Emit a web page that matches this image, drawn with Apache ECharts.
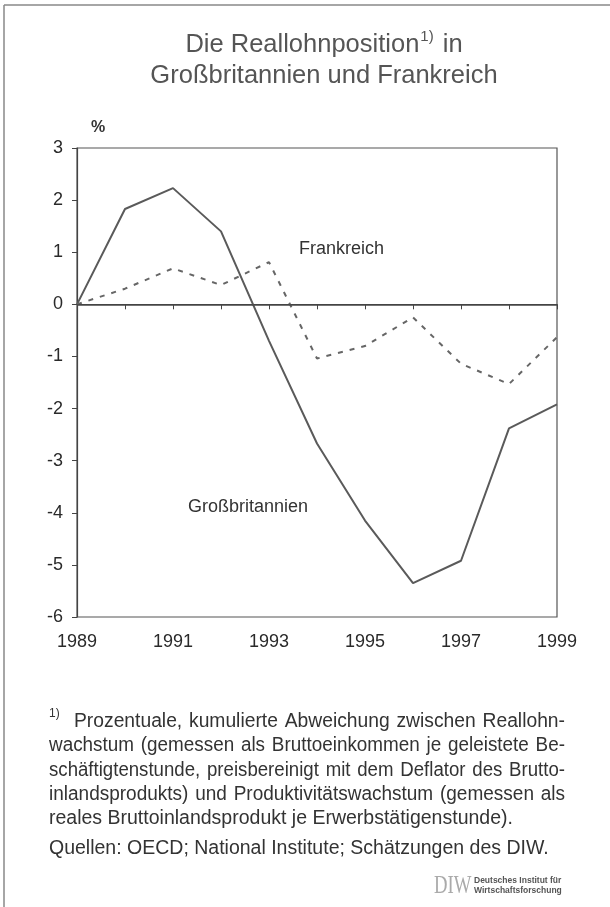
<!DOCTYPE html>
<html>
<head>
<meta charset="utf-8">
<script src="https://cdn.jsdelivr.net/npm/echarts@6/dist/echarts.min.js"></script>
<style>
html,body{margin:0;padding:0;background:#fff;}
#chart{width:610px;height:907px;}
</style>
</head>
<body>
<div id="chart"></div>
<script>
// ---- data ----
const years = [1989, 1990, 1991, 1992, 1993, 1994, 1995, 1996, 1997, 1998, 1999];
const gbValues = [0, 1.83, 2.23, 1.40, -0.70, -2.67, -4.15, -5.35, -4.92, -2.38, -1.92];
const frValues = [0, 0.30, 0.69, 0.37, 0.81, -1.04, -0.80, -0.25, -1.14, -1.53, -0.63];
const yTicks = [3, 2, 1, 0, -1, -2, -3, -4, -5, -6];
const xTickLabels = ['1989', '1991', '1993', '1995', '1997', '1999'];
const titleLines = ['Die Reallohnposition{sup|1)} in', 'Großbritannien und Frankreich'];
const seriesNames = ['Großbritannien', 'Frankreich'];
const footnoteLines = [
  'Prozentuale, kumulierte Abweichung zwischen Reallohn-',
  'wachstum (gemessen als Bruttoeinkommen je geleistete Be-',
  'schäftigtenstunde, preisbereinigt mit dem Deflator des Brutto-',
  'inlandsprodukts) und Produktivitätswachstum (gemessen als',
  'reales Bruttoinlandsprodukt je Erwerbstätigenstunde).'
];
const sourceLine = 'Quellen: OECD; National Institute; Schätzungen des DIW.';

// ---- layout helpers ----
const FONT = '"Liberation Sans", Arial, Helvetica, sans-serif';
const FN_SIZE = 19.5;
const canvas = document.createElement('canvas');
const ctx = canvas.getContext('2d');
ctx.font = FN_SIZE + 'px ' + FONT;

function justifiedLine(text, x0, x1, y, justify) {
  const words = text.split(' ');
  const widths = words.map(w => ctx.measureText(w).width);
  const total = widths.reduce((a, b) => a + b, 0);
  const space = ctx.measureText(' ').width;
  let s = 1;
  let gap = space;
  if (justify && words.length > 1) {
    gap = (x1 - x0 - total) / (words.length - 1);
    const minGap = space * 1.25;
    if (gap < minGap) {
      gap = minGap;
      s = (x1 - x0 - (words.length - 1) * minGap) / total;
    }
  }
  const els = [];
  let x = x0;
  words.forEach((w, i) => {
    els.push({type: 'text', x: x, y: y, scaleX: s,
      style: {text: w, font: FN_SIZE + 'px ' + FONT, fill: '#333', align: 'left', verticalAlign: 'middle'}});
    x += widths[i] * s + gap;
  });
  return els;
}

const graphics = [];
// page frame
graphics.push({type: 'line', shape: {x1: 4, y1: 5, x2: 610, y2: 5}, style: {stroke: '#888', lineWidth: 1.5}});
graphics.push({type: 'line', shape: {x1: 4, y1: 5, x2: 4, y2: 907}, style: {stroke: '#888', lineWidth: 1.5}});
// percent sign
graphics.push({type: 'text', left: 91, top: 120, style: {text: '%', font: 'bold 16px ' + FONT, fill: '#333'}});
// series labels
graphics.push({type: 'text', left: 299, top: 240, style: {text: seriesNames[1], font: '18px ' + FONT, fill: '#333'}});
graphics.push({type: 'text', left: 188, top: 498, style: {text: seriesNames[0], font: '18px ' + FONT, fill: '#333'}});
// footnote
graphics.push({type: 'text', left: 49, top: 708, style: {text: '1)', font: '12px ' + FONT, fill: '#333'}});
const fnY = [722, 746, 771, 795, 819];
footnoteLines.forEach((t, i) => {
  const x0 = i === 0 ? 74 : 49;
  justifiedLine(t, x0, 565, fnY[i], i < 4).forEach(e => graphics.push(e));
});
justifiedLine(sourceLine, 49, 565, 849, false).forEach(e => graphics.push(e));
// logo
graphics.push({type: 'text', left: 434, top: 873, scaleX: 0.72, style: {text: 'DIW', font: '26px "Liberation Serif", serif', fill: '#aaa'}});
graphics.push({type: 'text', left: 474, top: 876, style: {text: 'Deutsches Institut für', font: 'bold 8.5px ' + FONT, fill: '#555'}});
graphics.push({type: 'text', left: 474, top: 886, style: {text: 'Wirtschaftsforschung', font: 'bold 8.5px ' + FONT, fill: '#555'}});

const chart = echarts.init(document.getElementById('chart'));
chart.setOption({
  backgroundColor: '#fff',
  animation: false,
  title: {
    text: titleLines.join('\n'),
    left: 319, top: 24, textAlign: 'center',
    textStyle: {
      fontFamily: FONT, fontSize: 25.5, fontWeight: 'normal', color: '#555', lineHeight: 31,
      rich: {sup: {fontSize: 15, verticalAlign: 'top', lineHeight: 31, color: '#555', padding: [0, 2, 10, 1]}}
    }
  },
  grid: {left: 77, right: 53, top: 148, bottom: 290, show: true, borderColor: '#555', borderWidth: 1.2, containLabel: false},
  xAxis: {
    type: 'value', min: 1989, max: 1999, interval: 1,
    axisLine: {lineStyle: {color: '#444', width: 1.2}},
    axisTick: {show: true, length: 5, lineStyle: {color: '#444'}},
    splitLine: {show: false},
    axisLabel: {
      margin: 16, fontFamily: FONT, fontSize: 18, color: '#2a2a2a',
      formatter: v => xTickLabels.indexOf(String(v)) >= 0 ? String(v) : ''
    }
  },
  yAxis: {
    type: 'value', min: -6, max: 3, interval: 1,
    axisLine: {show: true, lineStyle: {color: '#444', width: 1.2}},
    axisTick: {show: true, length: 5, lineStyle: {color: '#444'}},
    splitLine: {show: false},
    axisLabel: {
      margin: 14, fontFamily: FONT, fontSize: 18, color: '#2a2a2a',
      formatter: v => yTicks.indexOf(v) >= 0 ? String(v) : ''
    }
  },
  series: [
    {
      name: seriesNames[0], type: 'line',
      data: years.map((y, i) => [y, gbValues[i]]),
      symbol: 'none', lineStyle: {color: '#5a5a5a', width: 2},
      markLine: {
        silent: true, symbol: 'none', label: {show: false},
        lineStyle: {color: '#444', width: 1.6, type: 'solid'},
        data: [{yAxis: 0}]
      }
    },
    {
      name: seriesNames[1], type: 'line',
      data: years.map((y, i) => [y, frValues[i]]),
      symbol: 'none', lineStyle: {color: '#666', width: 2, type: [5, 7]}
    }
  ],
  graphic: graphics
});
</script>
</body>
</html>
